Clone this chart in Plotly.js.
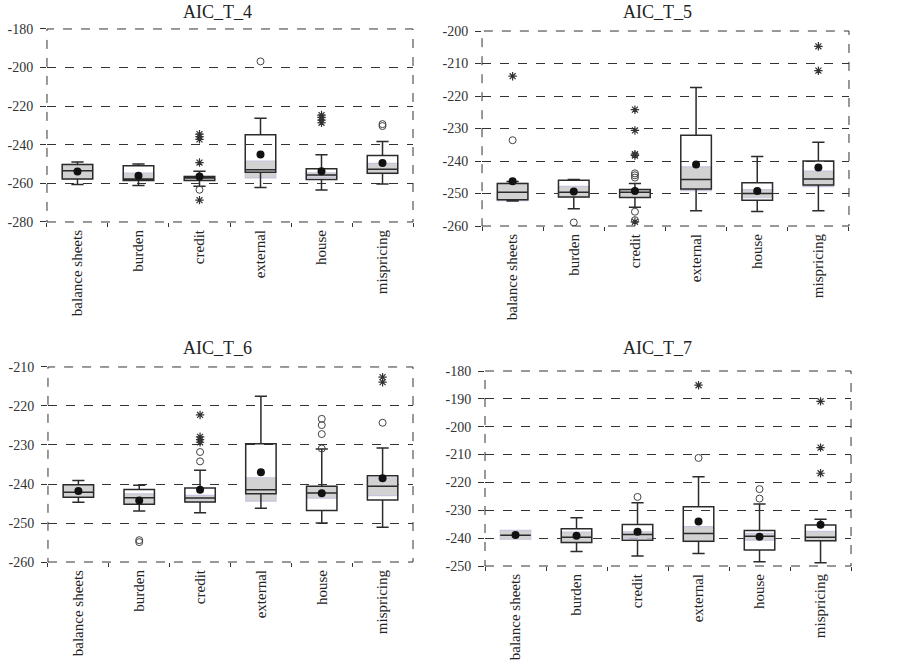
<!DOCTYPE html>
<html>
<head>
<meta charset="utf-8">
<script src="https://cdn.plot.ly/plotly-3.0.1.min.js"></script>
<style>
    body { margin: 0; background: #fff; }
    #chart { width: 900px; height: 663px; }
</style>
</head>
<body>
<div id="chart"></div>
<script>
const categories = ['balance sheets', 'burden', 'credit', 'external', 'house', 'mispricing']

// AIC_T_4
const t4Ticks = [-280, -260, -240, -220, -200, -180]
const t4Q1 = [-257.7, -258.5, -258.5, -254.3, -258.0, -254.8]
const t4Med = [-253.4, -257.7, -257.2, -253.0, -255.6, -252.7]
const t4Q3 = [-250.2, -250.9, -256.4, -234.8, -252.4, -245.6]
const t4Lo = [-260.6, -261.1, -261.5, -262.2, -263.4, -260.3]
const t4Hi = [-248.9, -249.9, -253.7, -226.3, -245.2, -238.3]
const t4Mean = [-253.9, -256.0, -256.5, -245.0, -253.7, -249.4]
const t4BandLo = [-257.7, -258.5, -258.5, -257.2, -257.0, -255.0]
const t4BandHi = [-250.2, -254.7, -256.4, -248.4, -254.5, -249.6]
const t4CircleX = ['credit', 'external', 'mispricing', 'mispricing']
const t4CircleY = [-263.3, -196.8, -229.3, -230.3]
const t4StarX = ['credit', 'credit', 'credit', 'credit', 'credit', 'house', 'house', 'house', 'house']
const t4StarY = [-234.5, -235.8, -237.2, -249.2, -268.7, -224.6, -225.8, -227.2, -228.6]

// AIC_T_5
const t5Ticks = [-260, -250, -240, -230, -220, -210, -200]
const t5Q1 = [-251.9, -251.1, -251.2, -248.6, -252.1, -247.4]
const t5Med = [-249.6, -249.6, -249.6, -245.7, -250.0, -245.5]
const t5Q3 = [-246.9, -245.9, -248.8, -232.1, -246.7, -240.0]
const t5Lo = [-252.3, -254.7, -254.2, -255.3, -255.5, -255.3]
const t5Hi = [-246.3, -245.7, -246.9, -217.4, -238.6, -234.2]
const t5Mean = [-246.2, -249.4, -249.2, -241.1, -249.2, -242.0]
const t5BandLo = [-252.2, -251.1, -251.2, -249.1, -251.3, -247.9]
const t5BandHi = [-246.9, -247.8, -248.8, -241.8, -248.8, -243.1]
const t5CircleX = ['balance sheets', 'burden', 'credit', 'credit', 'credit', 'credit', 'credit']
const t5CircleY = [-233.6, -258.9, -243.8, -244.4, -245.1, -255.6, -258.2]
const t5StarX = ['balance sheets', 'credit', 'credit', 'credit', 'credit', 'credit', 'mispricing', 'mispricing']
const t5StarY = [-213.9, -224.2, -230.6, -237.9, -238.3, -258.7, -204.7, -212.2]

// AIC_T_6
const t6Ticks = [-260, -250, -240, -230, -220, -210]
const t6Q1 = [-243.4, -245.2, -244.6, -242.5, -246.8, -244.1]
const t6Med = [-242.1, -243.5, -243.6, -241.5, -242.3, -240.6]
const t6Q3 = [-240.2, -241.4, -241.0, -229.7, -240.6, -237.9]
const t6Lo = [-244.7, -246.9, -247.4, -246.2, -250.0, -251.1]
const t6Hi = [-239.1, -240.3, -236.5, -217.5, -231.0, -230.8]
const t6Mean = [-241.8, -244.2, -241.5, -237.0, -242.4, -238.5]
const t6BandLo = [-243.4, -245.2, -244.6, -244.4, -243.6, -243.0]
const t6BandHi = [-240.2, -242.5, -242.9, -238.4, -240.6, -238.4]
const t6CircleX = ['burden', 'burden', 'credit', 'credit', 'house', 'house', 'house', 'house', 'mispricing']
const t6CircleY = [-254.4, -254.9, -231.8, -234.2, -223.3, -224.9, -227.2, -230.9, -224.3]
const t6StarX = ['credit', 'credit', 'credit', 'credit', 'mispricing', 'mispricing']
const t6StarY = [-222.3, -227.9, -228.6, -229.3, -212.6, -213.9]

// AIC_T_7
const t7Ticks = [-250, -240, -230, -220, -210, -200, -190, -180]
const t7Q1 = [-239.0, -241.6, -240.8, -241.1, -244.3, -240.9]
const t7Med = [-239.0, -239.7, -238.7, -238.3, -239.3, -239.7]
const t7Q3 = [-239.0, -236.6, -235.1, -228.7, -237.3, -235.3]
const t7Lo = [-239.0, -244.8, -246.4, -245.5, -248.5, -248.8]
const t7Hi = [-239.0, -232.7, -227.3, -218.0, -227.7, -233.2]
const t7Mean = [-238.9, -239.1, -237.7, -234.0, -239.5, -235.2]
const t7BandLo = [-240.4, -241.6, -240.0, -241.3, -240.7, -240.9]
const t7BandHi = [-237.2, -237.8, -237.7, -235.9, -238.3, -237.6]
const t7CircleX = ['credit', 'external', 'house', 'house']
const t7CircleY = [-225.2, -211.2, -222.4, -225.8]
const t7StarX = ['external', 'mispricing', 'mispricing', 'mispricing']
const t7StarY = [-185.1, -190.9, -207.5, -216.7]

const serif = '"Liberation Serif", "Times New Roman", Times, serif'

window.addEventListener('DOMContentLoaded', () => {
    drawPanels()
})

function panelTraces(n, q1, med, q3, lo, hi, mean, bandLo, bandHi, cx, cy, sx, sy) {
    const xa = n === 1 ? 'x' : 'x' + n
    const ya = n === 1 ? 'y' : 'y' + n
    return [
        {
            // grey band behind the box
            type: 'box', x: categories, xaxis: xa, yaxis: ya,
            q1: bandLo, median: med, q3: bandHi,
            lowerfence: bandLo, upperfence: bandHi,
            width: 0.5, whiskerwidth: 0,
            fillcolor: '#d2d2d2',
            line: {color: '#c6c6e0', width: 1.2},
            boxpoints: false, hoverinfo: 'skip', showlegend: false
        },
        {
            type: 'box', x: categories, xaxis: xa, yaxis: ya,
            q1: q1, median: med, q3: q3,
            lowerfence: lo, upperfence: hi,
            width: 0.5, whiskerwidth: 0.4,
            fillcolor: 'rgba(0,0,0,0)',
            line: {color: '#2b2b2b', width: 1.5},
            boxpoints: false, hoverinfo: 'skip', showlegend: false
        },
        {
            type: 'scatter', mode: 'markers', x: categories, y: mean, xaxis: xa, yaxis: ya,
            marker: {color: '#111', size: 8},
            hoverinfo: 'skip', showlegend: false
        },
        {
            type: 'scatter', mode: 'markers', x: cx, y: cy, xaxis: xa, yaxis: ya,
            marker: {symbol: 'circle-open', color: '#444', size: 7, line: {width: 1}},
            hoverinfo: 'skip', showlegend: false
        },
        {
            type: 'scatter', mode: 'markers', x: sx, y: sy, xaxis: xa, yaxis: ya,
            marker: {symbol: 'asterisk-open', color: '#333', size: 7, line: {width: 1.2}},
            hoverinfo: 'skip', showlegend: false
        }
    ]
}

function xAxis(domain, anchor) {
    return {
        domain: domain,
        anchor: anchor,
        type: 'category',
        categoryorder: 'array',
        categoryarray: categories,
        range: [-0.5, 5.5],
        tickson: 'boundaries',
        ticks: 'outside',
        ticklen: 4,
        tickcolor: '#333',
        tickangle: -90,
        showgrid: false,
        zeroline: false,
        showline: false,
        ticklabelstandoff: 4,
        tickfont: {family: serif, size: 15, color: '#222'}
    }
}

function yAxis(domain, anchor, ticks) {
    return {
        domain: domain,
        anchor: anchor,
        range: [ticks[0], ticks[ticks.length - 1]],
        tickmode: 'array',
        tickvals: ticks,
        // plain hyphen minus, as in the original
        ticktext: ticks.map(v => String(v)),
        ticks: 'outside',
        ticklen: 6,
        tickcolor: '#333',
        showgrid: true,
        gridcolor: '#333',
        griddash: 'dash',
        gridwidth: 1,
        zeroline: false,
        showline: false,
        ticklabelstandoff: 4,
        tickfont: {family: serif, size: 14, color: '#333'}
    }
}

function frame(n) {
    const xr = n === 1 ? 'x domain' : 'x' + n + ' domain'
    const yr = n === 1 ? 'y domain' : 'y' + n + ' domain'
    return {
        type: 'rect', xref: xr, yref: yr, x0: 0, x1: 1, y0: 0, y1: 1,
        line: {color: '#333', width: 1, dash: 'dash'}, layer: 'above'
    }
}

function title(text, x, y) {
    return {
        text: text, xref: 'paper', yref: 'paper', x: x, y: y,
        showarrow: false, xanchor: 'center', yanchor: 'middle',
        font: {family: serif, size: 18, color: '#222'}
    }
}

function drawPanels() {
    const target = document.getElementById('chart')
    const data = [].concat(
        panelTraces(1, t4Q1, t4Med, t4Q3, t4Lo, t4Hi, t4Mean, t4BandLo, t4BandHi, t4CircleX, t4CircleY, t4StarX, t4StarY),
        panelTraces(2, t5Q1, t5Med, t5Q3, t5Lo, t5Hi, t5Mean, t5BandLo, t5BandHi, t5CircleX, t5CircleY, t5StarX, t5StarY),
        panelTraces(3, t6Q1, t6Med, t6Q3, t6Lo, t6Hi, t6Mean, t6BandLo, t6BandHi, t6CircleX, t6CircleY, t6StarX, t6StarY),
        panelTraces(4, t7Q1, t7Med, t7Q3, t7Lo, t7Hi, t7Mean, t7BandLo, t7BandHi, t7CircleX, t7CircleY, t7StarX, t7StarY)
    )
    const layout = {
        width: 900,
        height: 663,
        margin: {l: 0, r: 0, t: 0, b: 0},
        font: {family: serif, color: '#222'},
        paper_bgcolor: '#fff',
        plot_bgcolor: '#fff',
        boxmode: 'overlay',
        showlegend: false,
        xaxis: xAxis([0.0522, 0.4589], 'y'),
        yaxis: yAxis([0.6652, 0.9563], 'x', t4Ticks),
        xaxis2: xAxis([0.5356, 0.9433], 'y2'),
        yaxis2: yAxis([0.6591, 0.9532], 'x2', t5Ticks),
        xaxis3: xAxis([0.0533, 0.4589], 'y3'),
        yaxis3: yAxis([0.1523, 0.4465], 'x3', t6Ticks),
        xaxis4: xAxis([0.5389, 0.9456], 'y4'),
        yaxis4: yAxis([0.1463, 0.4404], 'x4', t7Ticks),
        shapes: [frame(1), frame(2), frame(3), frame(4)],
        annotations: [
            title('AIC_T_4', 217 / 900, 1 - 12 / 663),
            title('AIC_T_5', 657 / 900, 1 - 12 / 663),
            title('AIC_T_6', 217 / 900, 1 - 348 / 663),
            title('AIC_T_7', 657 / 900, 1 - 348 / 663)
        ]
    }
    Plotly.newPlot(target, data, layout, {staticPlot: true})
}
</script>
</body>
</html>
